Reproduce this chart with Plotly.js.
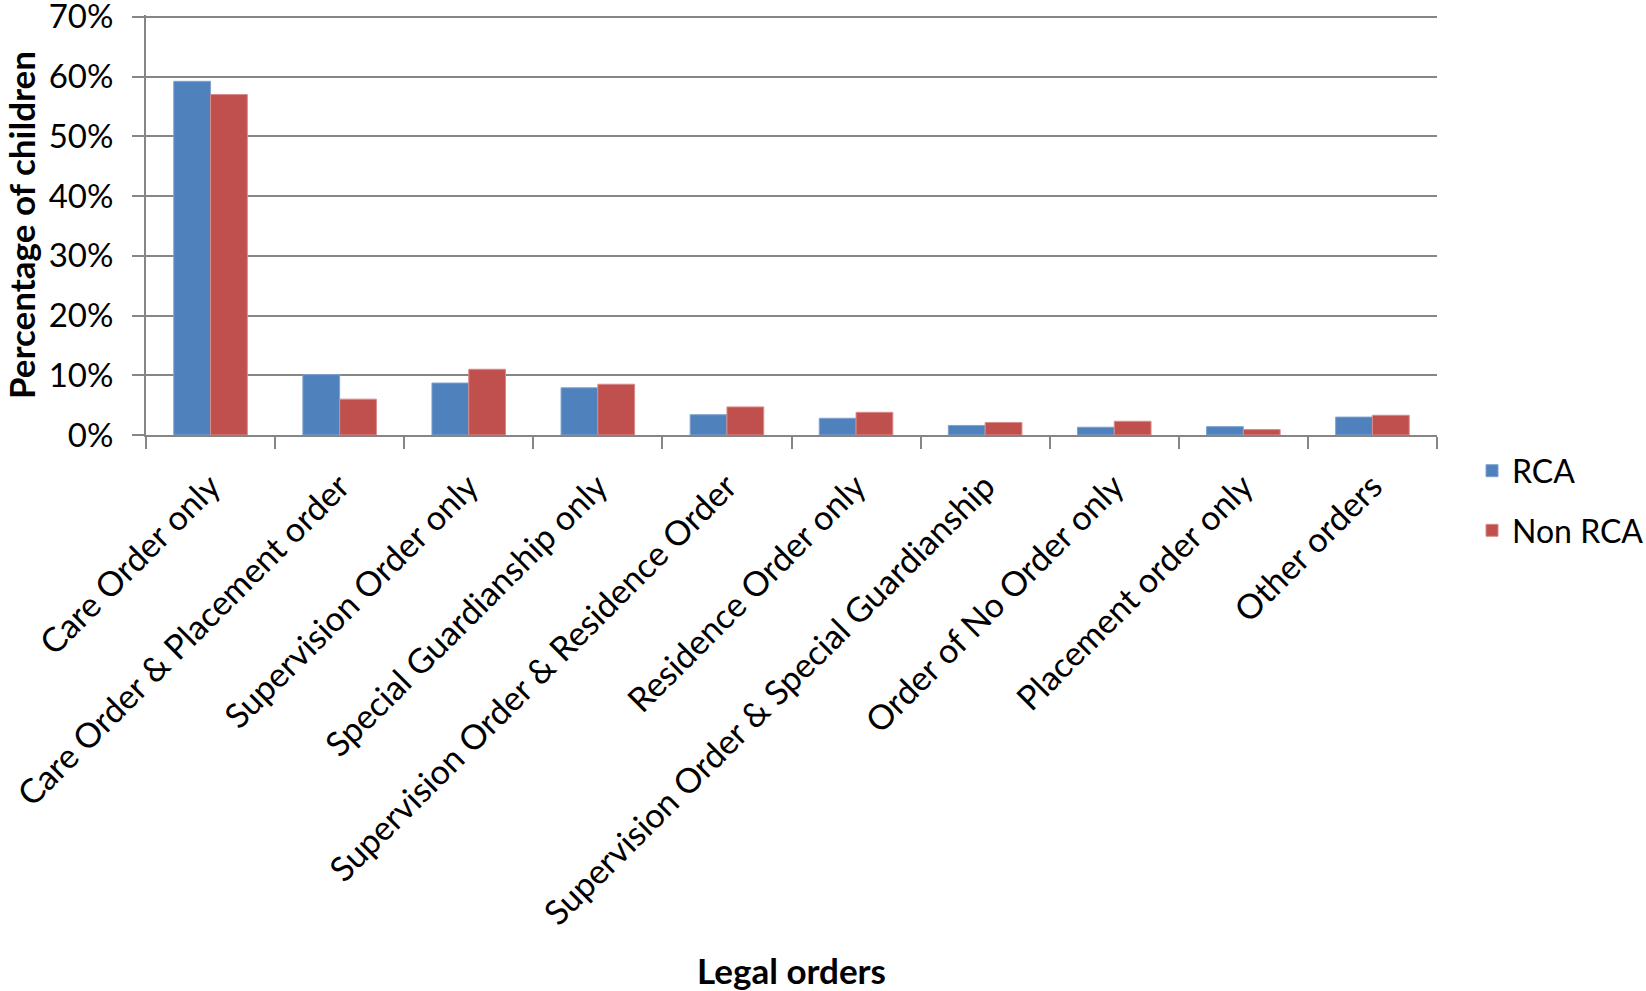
<!DOCTYPE html>
<html>
<head>
<meta charset="utf-8">
<script src="https://cdn.plot.ly/plotly-3.0.1.min.js"></script>
<style>html,body{margin:0;padding:0;background:#fff;}#chart{width:1646px;height:991px;}</style>
</head>
<body>
<div id="chart"></div>
<script>
const categories = [
  "Care Order only",
  "Care Order & Placement order",
  "Supervision Order only",
  "Special Guardianship only",
  "Supervision Order & Residence Order",
  "Residence Order only",
  "Supervision Order & Special Guardianship",
  "Order of No Order only",
  "Placement order only",
  "Other orders"
];
const rcaValues = [0.592, 0.101, 0.087, 0.079, 0.034, 0.028, 0.016, 0.013, 0.014, 0.030];
const nonRcaValues = [0.570, 0.060, 0.110, 0.085, 0.047, 0.038, 0.021, 0.023, 0.009, 0.033];
const seriesNames = ["RCA", "Non RCA"];
const yTickVals = [0, 0.1, 0.2, 0.3, 0.4, 0.5, 0.6, 0.7];

const FONT = "Lato, 'Open Sans', sans-serif";
const gridColor = "#868686";

const traces = [
  {type: "bar", name: seriesNames[0], x: categories, y: rcaValues, legendgroup: "a",
   marker: {color: "#4F81BD", line: {color: "#7EA2D1", width: 1}}},
  {type: "bar", name: seriesNames[1], x: categories, y: nonRcaValues, legendgroup: "b",
   marker: {color: "#C0504D", line: {color: "#D98C8A", width: 1}}}
];

const layout = {
  width: 1646, height: 991,
  paper_bgcolor: "#fff", plot_bgcolor: "#fff",
  margin: {l: 146, r: 209, t: 15, b: 556},
  barmode: "group", bargap: 0.43, bargroupgap: 0,
  font: {family: FONT, size: 34, color: "#000"},
  xaxis: {
    type: "category", range: [-0.5, 9.5],
    tickangle: -45, tickson: "boundaries",
    ticks: "outside", ticklen: 12, tickwidth: 2, tickcolor: gridColor,
    showline: true, linecolor: gridColor, linewidth: 2,
    showgrid: false, zeroline: false, ticklabelstandoff: 16,
    tickfont: {family: FONT, size: 34, color: "#000"},
    title: {text: "Legal orders", font: {family: FONT, size: 35, color: "#000", weight: "bold"}, standoff: 43}
  },
  yaxis: {
    range: [0, 0.703], tickvals: yTickVals, tickformat: ".0%",
    ticks: "outside", ticklen: 12, tickwidth: 2, tickcolor: gridColor,
    showline: true, linecolor: gridColor, linewidth: 2,
    showgrid: true, gridcolor: gridColor, gridwidth: 2,
    zeroline: false, ticklabelstandoff: 12, ticklabeloverflow: "allow",
    tickfont: {family: FONT, size: 33, color: "#000"},
    title: {text: "Percentage of children", font: {family: FONT, size: 35, color: "#000", weight: "bold"}, standoff: 14}
  },
  legend: {
    xref: "container", x: 0.8943, xanchor: "left",
    yref: "paper", y: -0.02, yanchor: "top",
    traceorder: "grouped", tracegroupgap: 15,
    font: {family: FONT, size: 32, color: "#000"},
    bgcolor: "rgba(0,0,0,0)"
  },
  showlegend: true
};

Plotly.newPlot("chart", traces, layout, {staticPlot: true, displayModeBar: false});
</script>
</body>
</html>
